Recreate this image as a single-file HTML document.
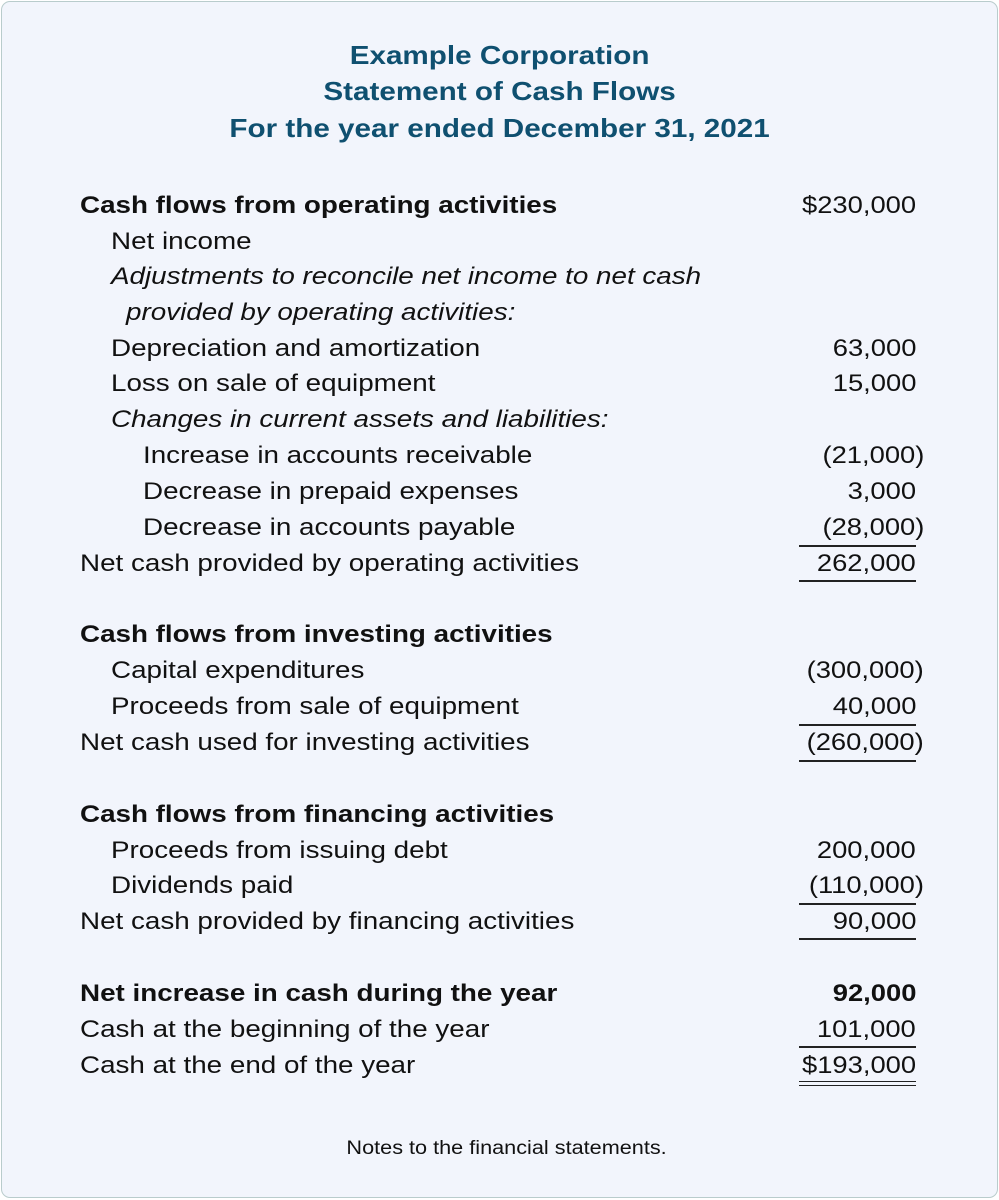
<!DOCTYPE html>
<html><head><meta charset="utf-8"><style>
body{margin:0;width:999px;height:1200px;background:#fff;font-family:"Liberation Sans",Arial,sans-serif;}
.card{position:absolute;left:1px;top:1px;width:995px;height:1195px;background:#f2f5fc;border:1.5px solid #b9cccc;border-radius:9px;}
.t{position:absolute;left:0;width:999px;text-align:center;color:#0f5070;font-weight:bold;font-size:26px;line-height:30px;transform:scaleX(1.14);transform-origin:499px 0;}
.r{position:absolute;font-size:24px;line-height:28px;color:#111;white-space:nowrap;transform:scaleX(1.158);transform-origin:0 0;}
.n{position:absolute;right:83px;font-size:24px;line-height:28px;color:#111;text-align:right;white-space:nowrap;transform:scaleX(1.14);transform-origin:100% 0;}
.p{margin-right:-7px;}
.b{font-weight:bold}.i{font-style:italic}
.l{position:absolute;left:799px;width:117px;height:0;border-top:2px solid #222;}
</style></head><body>
<div class="card"></div>
<div class="t" style="top:40px">Example Corporation</div>
<div class="t" style="top:76px">Statement of Cash Flows</div>
<div class="t" style="top:113px">For the year ended December 31, 2021</div>

<div class="r b" style="left:80px;top:192px">Cash flows from operating activities</div><div class="n" style="top:192px">$230,000</div>
<div class="r" style="left:111px;top:228px">Net income</div>
<div class="r i" style="left:111px;top:263px">Adjustments to reconcile net income to net cash</div>
<div class="r i" style="left:126px;top:299px">provided by operating activities:</div>
<div class="r" style="left:111px;top:335px">Depreciation and amortization</div><div class="n" style="top:335px">63,000</div>
<div class="r" style="left:111px;top:370px">Loss on sale of equipment</div><div class="n" style="top:370px">15,000</div>
<div class="r i" style="left:111px;top:406px">Changes in current assets and liabilities:</div>
<div class="r" style="left:143px;top:442px">Increase in accounts receivable</div><div class="n" style="top:442px"><span class="p">(21,000)</span></div>
<div class="r" style="left:143px;top:478px">Decrease in prepaid expenses</div><div class="n" style="top:478px">3,000</div>
<div class="r" style="left:143px;top:514px">Decrease in accounts payable</div><div class="n" style="top:514px"><span class="p">(28,000)</span></div>
<div class="l" style="top:545px"></div>
<div class="r" style="left:80px;top:550px">Net cash provided by operating activities</div><div class="n" style="top:550px">262,000</div>
<div class="l" style="top:580px"></div>

<div class="r b" style="left:80px;top:621px">Cash flows from investing activities</div>
<div class="r" style="left:111px;top:657px">Capital expenditures</div><div class="n" style="top:657px"><span class="p">(300,000)</span></div>
<div class="r" style="left:111px;top:693px">Proceeds from sale of equipment</div><div class="n" style="top:693px">40,000</div>
<div class="l" style="top:724px"></div>
<div class="r" style="left:80px;top:729px">Net cash used for investing activities</div><div class="n" style="top:729px"><span class="p">(260,000)</span></div>
<div class="l" style="top:760px"></div>

<div class="r b" style="left:80px;top:801px">Cash flows from financing activities</div>
<div class="r" style="left:111px;top:837px">Proceeds from issuing debt</div><div class="n" style="top:837px">200,000</div>
<div class="r" style="left:111px;top:872px">Dividends paid</div><div class="n" style="top:872px"><span class="p">(110,000)</span></div>
<div class="l" style="top:903px"></div>
<div class="r" style="left:80px;top:908px">Net cash provided by financing activities</div><div class="n" style="top:908px">90,000</div>
<div class="l" style="top:938px"></div>

<div class="r b" style="left:80px;top:980px">Net increase in cash during the year</div><div class="n b" style="top:980px">92,000</div>
<div class="r" style="left:80px;top:1016px">Cash at the beginning of the year</div><div class="n" style="top:1016px">101,000</div>
<div class="l" style="top:1046px"></div>
<div class="r" style="left:80px;top:1052px">Cash at the end of the year</div><div class="n" style="top:1052px">$193,000</div>
<div class="l" style="top:1081px;border-top-width:1.5px"></div>
<div class="l" style="top:1085px;border-top-width:1.5px"></div>

<div style="position:absolute;left:0;width:1013px;text-align:center;top:1138px;font-size:19px;line-height:22px;color:#111;transform:scaleX(1.14);transform-origin:506px 0">Notes to the financial statements.</div>
</body></html>
